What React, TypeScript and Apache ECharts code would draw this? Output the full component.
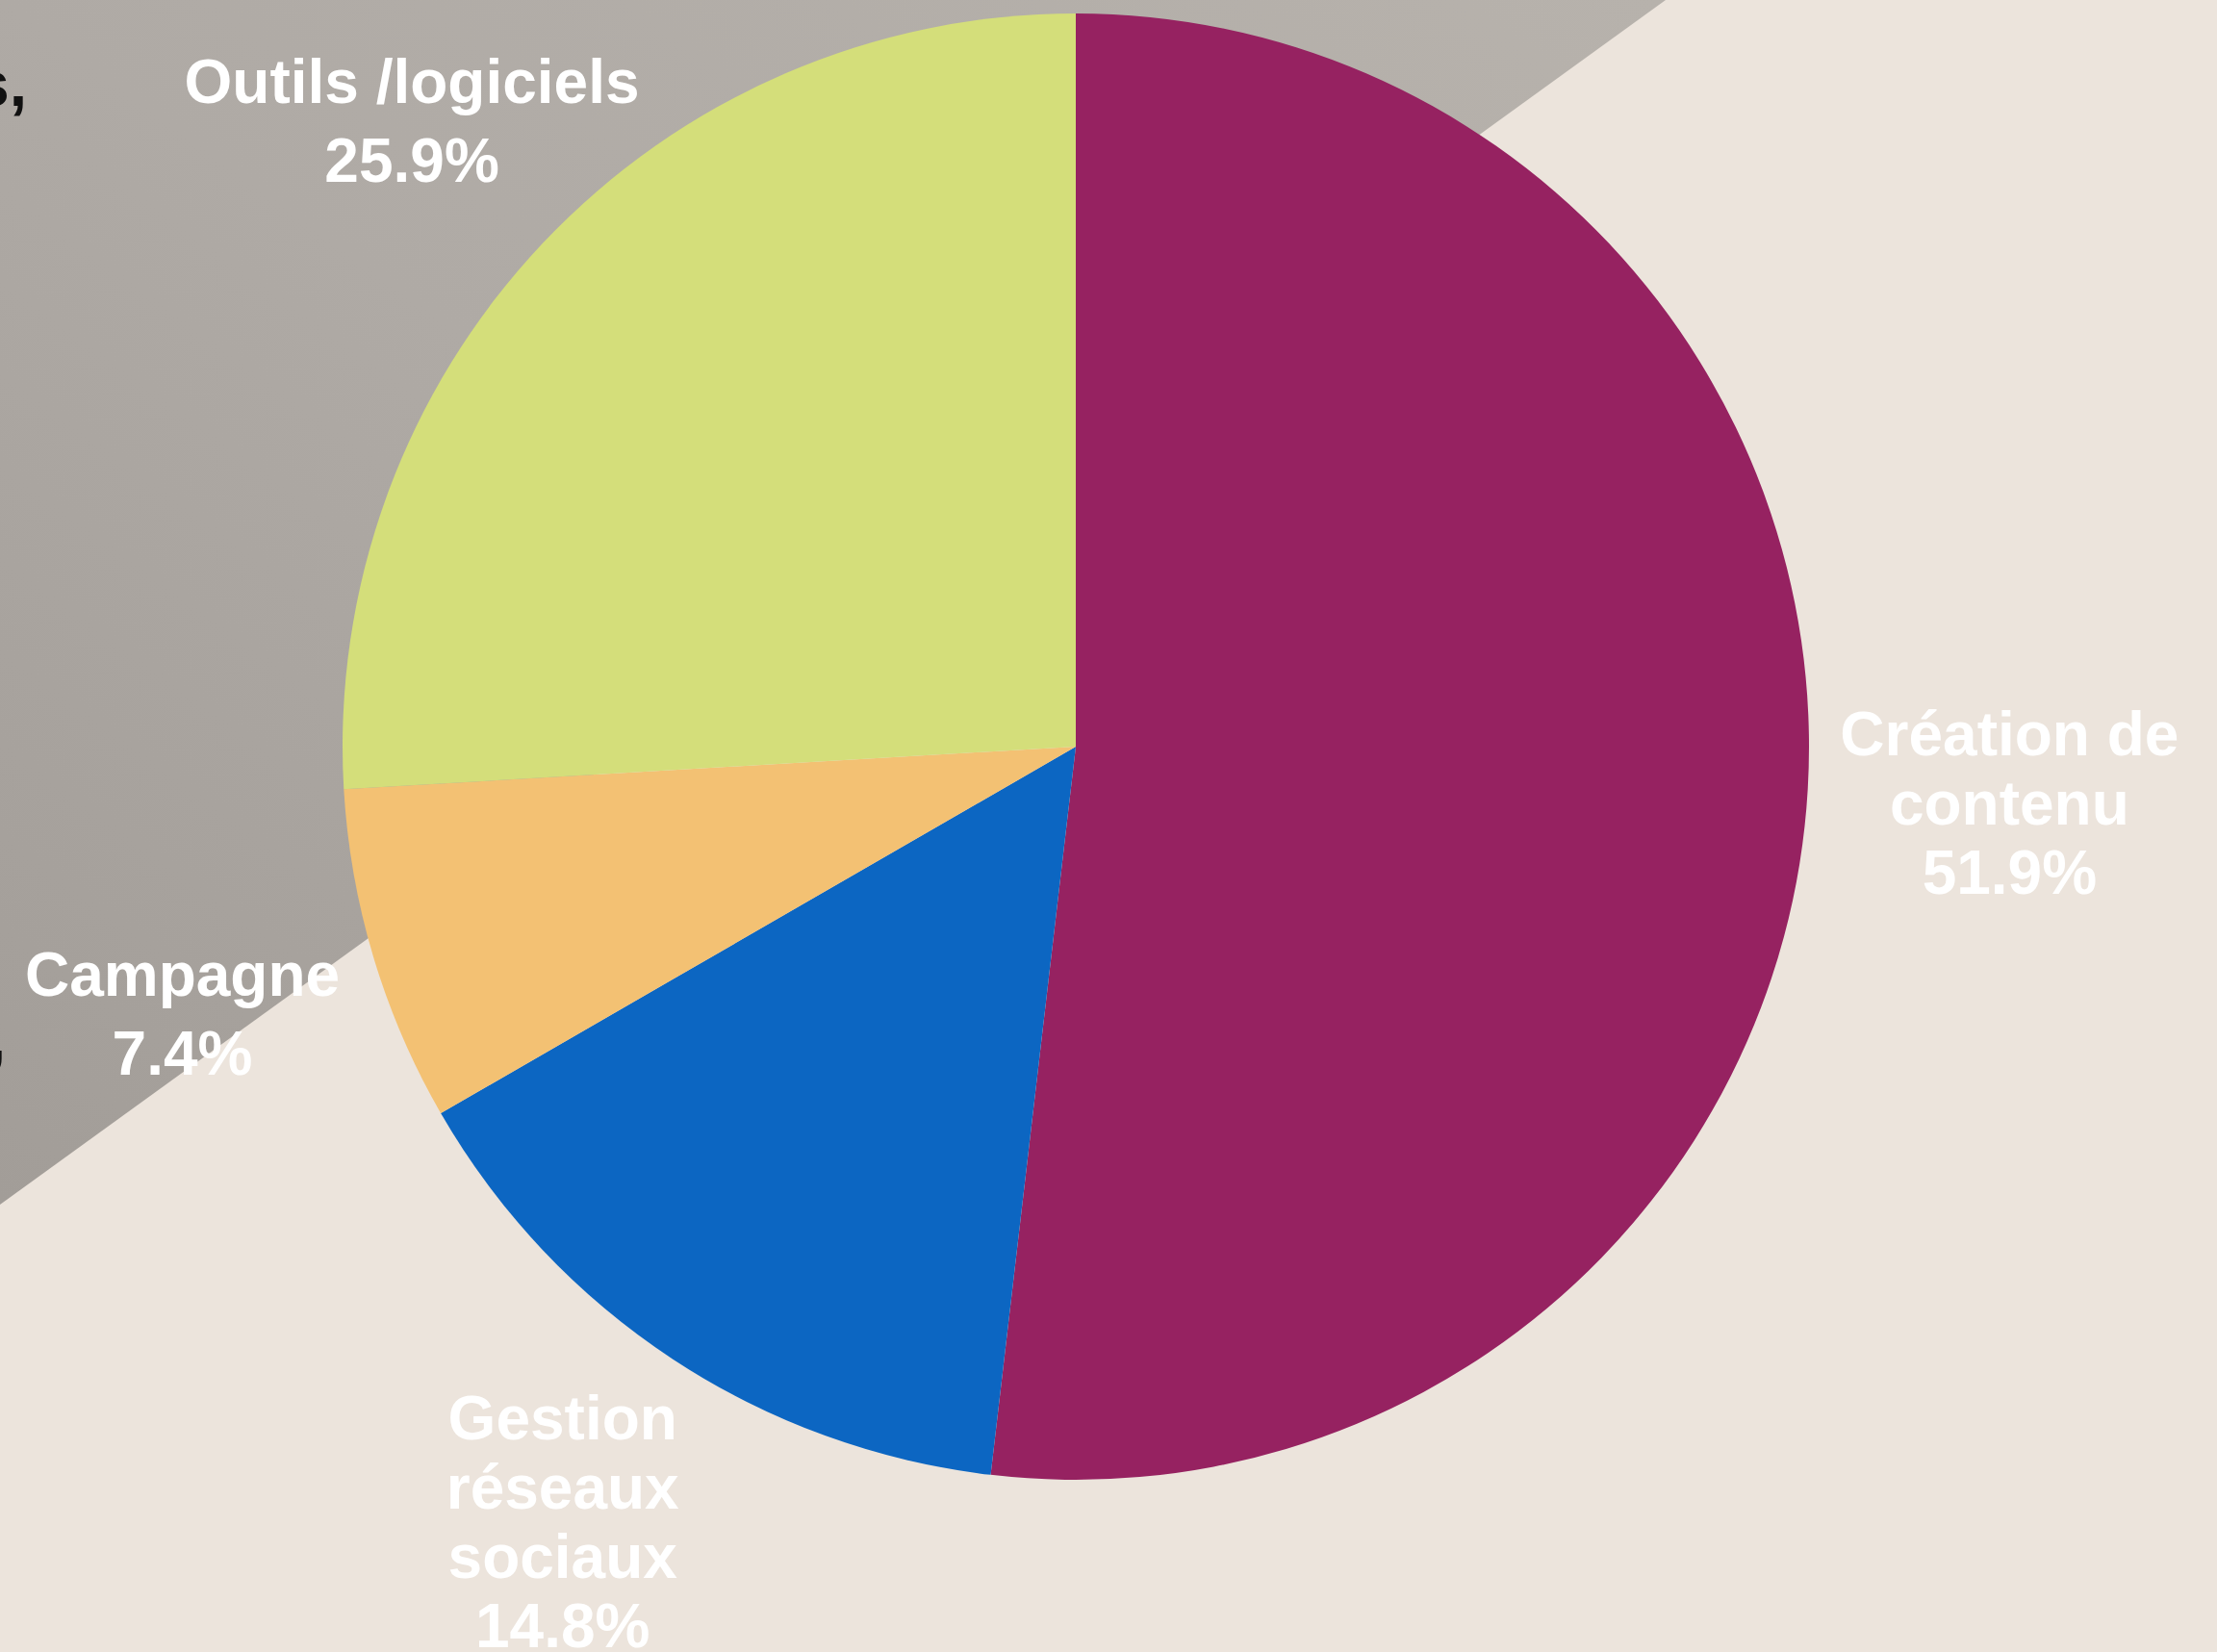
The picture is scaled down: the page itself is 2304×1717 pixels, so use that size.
import React, { useEffect, useRef } from "react";
import * as echarts from "echarts";

const categories = ["Création de contenu", "Gestion réseaux sociaux", "Campagne", "Outils /logiciels"];
const labelTexts = ["Création de\ncontenu", "Gestion\nréseaux\nsociaux", "Campagne", "Outils /logiciels"];
const values = [14, 4, 2, 7];
const colors = ["#962261", "#0C66C2", "#F3C173", "#D4DE7A"];

export default function App() {
  const ref = useRef<HTMLDivElement>(null);
  useEffect(() => {
    document.body.style.margin = "0";
    const chart = echarts.init(ref.current!, null, { renderer: "svg" });
    const cx = 1118;
    const cy = 776;
    const R = 762;
    const labelR = 962;
    const lineHeights = [72, 72, 82, 82];
    const offsets = [[7, 3], [-3, 0], [-4, 1], [12, 12]];
    chart.setOption({
      animation: false,
      backgroundColor: "#ECE4DC",
      graphic: [
        {
          type: "polygon",
          silent: true,
          z: -10,
          shape: { points: [[0, 0], [1731, 0], [0, 1252]] },
          style: {
            fill: new echarts.graphic.LinearGradient(1, 0, 0, 1, [
              { offset: 0, color: "#B7B2AC" },
              { offset: 0.5, color: "#AFAAA5" },
              { offset: 1, color: "#A29D98" },
            ]),
          },
        },
        {
          type: "text",
          silent: true,
          z: -5,
          x: 28,
          y: 120,
          style: {
            text: "s,",
            align: "right",
            verticalAlign: "bottom",
            fill: "#111111",
            font: "bold 66px 'Liberation Sans', Arial, sans-serif",
          },
        },
        {
          type: "text",
          silent: true,
          z: -5,
          x: 6,
          y: 1112,
          style: {
            text: ",",
            align: "right",
            verticalAlign: "bottom",
            fill: "#111111",
            font: "bold 66px 'Liberation Sans', Arial, sans-serif",
          },
        },
      ],
      series: [
        {
          type: "pie",
          center: [cx, cy],
          radius: [0, R],
          startAngle: 90,
          clockwise: true,
          silent: true,
          label: { show: false },
          labelLine: { show: false },
          itemStyle: { borderWidth: 0 },
          data: categories.map((name, i) => ({
            name,
            value: values[i],
            itemStyle: { color: colors[i] },
          })),
          z: 2,
        },
        {
          type: "pie",
          center: [cx, cy],
          radius: [0, labelR * 2],
          startAngle: 90,
          clockwise: true,
          silent: true,
          percentPrecision: 1,
          avoidLabelOverlap: false,
          label: {
            show: true,
            position: "inside",
            formatter: (p: any) => labelTexts[p.dataIndex] + "\n" + p.percent + "%",
            color: "#FFFFFF",
            fontFamily: "'Liberation Sans', Arial, sans-serif",
            fontWeight: "bold",
            fontSize: 64,
            lineHeight: 72,
            align: "center",
            verticalAlign: "middle",
            rotate: 0,
          },
          labelLine: { show: false },
          itemStyle: { color: "rgba(0,0,0,0)", borderWidth: 0 },
          data: categories.map((name, i) => ({
            name,
            value: values[i],
            label: { lineHeight: lineHeights[i], offset: offsets[i] },
          })),
          z: 3,
        },
      ],
    });
    return () => chart.dispose();
  }, []);
  return (
    <div
      ref={ref}
      style={{ position: "absolute", left: 0, top: 0, width: 2304, height: 1717 }}
    />
  );
}
